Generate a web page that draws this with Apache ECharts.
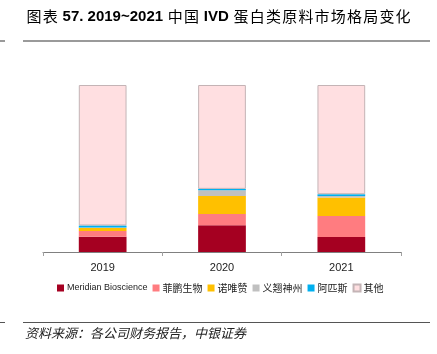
<!DOCTYPE html>
<html>
<head>
<meta charset="utf-8" />
<title>2019~2021 中国 IVD 蛋白类原料市场格局变化</title>
<script src="https://cdn.jsdelivr.net/npm/echarts@6/dist/echarts.min.js"></script>
<style>
  html, body { margin: 0; padding: 0; background: #fff; }
  #main { width: 437px; height: 354px; }
</style>
</head>
<body>
<div id="main"></div>
<script type="text/javascript">
// 年份
var years = ['2019', '2020', '2021'];
// 各公司份额（%），按图读数估计
var meridian = [9.2, 16.0, 9.0];
var feipeng = [3.4, 6.8, 12.6];
var nuoweizan = [1.8, 10.8, 11.0];
var yiqiao = [0.3, 3.4, 1.0];
var apisi = [1.2, 0.8, 1.0];
var qita = [84.1, 62.2, 65.4];

var names = ['Meridian Bioscience', '菲鹏生物', '诺唯赞', '义翘神州', '阿匹斯', '其他'];
var colors = ['#A50021', '#FF7C80', '#FFC000', '#C0C0C0', '#00B0F0', '#FFDFE1'];
var values = [meridian, feipeng, nuoweizan, yiqiao, apisi, qita];

var myChart = echarts.init(document.getElementById('main'));

// 中文字逐个包一层，留出一点字距
function cjk(s) {
    return s.split('').map(function (ch) { return '{c|' + ch + '}'; }).join('');
}

var series = [];
values.forEach(function (v, i) {
    var s = {
        name: names[i],
        type: 'bar',
        stack: 'total',
        barWidth: '40%',
        data: v,
        itemStyle: { color: colors[i] }
    };
    if (i === 5) {
        s.itemStyle.borderColor = '#C4B4B6';
        s.itemStyle.borderWidth = 1;
    }
    series.push(s);
});

var option = {
    animation: false,
    color: colors,
    title: {
        text: cjk('图表') + '{b| 57. 2019~2021 }' + cjk('中国') + '{b| IVD }' + cjk('蛋白类原料市场格局变化'),
        left: 21,
        top: 4,
        textStyle: {
            rich: {
                b: { fontFamily: 'Liberation Sans', fontWeight: 'bold', fontSize: 15, color: '#000' },
                c: { fontFamily: 'Noto Sans CJK SC', fontWeight: 'normal', fontSize: 15, color: '#000', padding: [0, 0.6, 0, 0.6] }
            }
        }
    },
    legend: {
        bottom: 56,
        left: 52,
        itemWidth: 7,
        itemHeight: 7,
        itemGap: 5,
        icon: 'rect',
        formatter: function (name) {
            return /[\u4e00-\u9fa5]/.test(name) ? '{c|' + name + '}' : '{l|' + name + '}';
        },
        textStyle: {
            color: '#222',
            padding: [0, 0, 0, -2],
            rich: {
                l: { fontSize: 9, fontFamily: 'Liberation Sans', color: '#222' },
                c: { fontSize: 10, fontFamily: 'Noto Sans CJK SC', color: '#222' }
            }
        },
        data: names
    },
    grid: {
        left: 43,
        right: 36,
        top: 85,
        bottom: 102
    },
    xAxis: {
        type: 'category',
        data: years,
        axisLine: { lineStyle: { color: '#808080', width: 1 } },
        axisTick: { show: true, length: 4, lineStyle: { color: '#a0a0a0' } },
        axisLabel: { color: '#222', fontSize: 11, fontFamily: 'Liberation Sans', margin: 10 }
    },
    yAxis: {
        type: 'value',
        min: 0,
        max: 100,
        show: false
    },
    graphic: [
        { type: 'rect', shape: { x: 23, y: 40, width: 407, height: 2 }, style: { fill: '#9a9a9a' } },
        { type: 'rect', shape: { x: 0, y: 40, width: 5, height: 2 }, style: { fill: '#9a9a9a' } },
        { type: 'rect', shape: { x: 23, y: 322, width: 407, height: 1 }, style: { fill: '#555' } },
        { type: 'rect', shape: { x: 0, y: 322, width: 5, height: 1 }, style: { fill: '#555' } },
        {
            type: 'text', left: 25, top: 327,
            style: {
                text: '资料来源：各公司财务报告，中银证券',
                fontSize: 13, fontStyle: 'italic', fill: '#222',
                fontFamily: 'Noto Sans CJK SC'
            }
        }
    ],
    series: series
};

myChart.setOption(option);
</script>
</body>
</html>
